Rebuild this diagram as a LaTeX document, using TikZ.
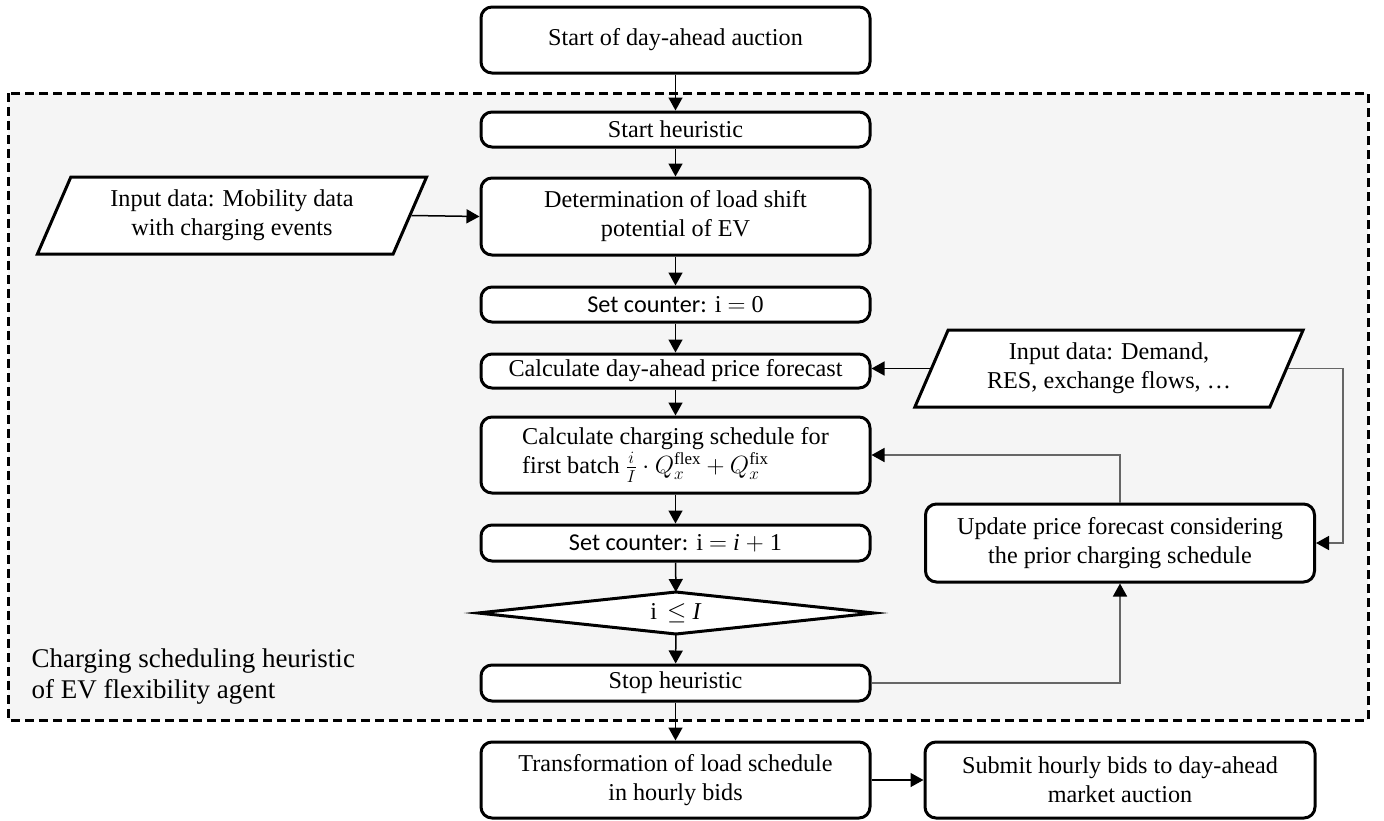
\documentclass[tikz,border=0pt]{standalone}
\usepackage{fontspec}
\setmainfont{Liberation Serif}
\newfontfamily\carl{Carlito}
\usetikzlibrary{shapes.geometric,arrows.meta}
\begin{document}
\begin{tikzpicture}[x=1pt,y=-1pt,
  txt/.style={font=\fontsize{24.2}{29}\selectfont},
  box/.style={txt,draw,line width=3pt,rounded corners=11pt,fill=white,minimum width=389pt,align=center,inner sep=2pt},
  para/.style={txt,draw,line width=3pt,trapezium,trapezium left angle=65,trapezium right angle=115,trapezium stretches=true,fill=white,minimum width=390pt,minimum height=77pt,align=center,inner sep=2pt},
  dia/.style={txt,draw,line width=3pt,diamond,aspect=9,fill=white,minimum width=396pt,minimum height=42pt,inner sep=0pt,outer sep=0pt},
  arr/.style={line width=1.5pt,-{Triangle[length=13pt,width=14pt,color=black]}},
  fb/.style={arr,draw=black!60}]
\useasboundingbox (0,0) rectangle (1384,820);
% heuristic frame
\draw[line width=3pt,dash pattern=on 9pt off 5pt,fill=black!4] (8,93) rectangle (1368,720);
% nodes
\node[box,minimum height=66pt] (start) at (675.5,40) {Start of day-ahead auction};
\node[box,minimum height=35pt] (sh) at (675.5,129.5) {Start heuristic};
\node[box,minimum height=77pt] (det) at (675.5,216.5) {Determination of load shift\\potential of EV};
\node[para] (mob) at (232,215.5) {Input data: Mobility data\\with charging events};
\node[box,minimum height=35pt] (sc0) at (675.5,304.5) {{\carl Set counter:} i $=$ 0};
\node[box,minimum height=34pt] (price) at (675.5,371) {Calculate day-ahead price forecast};
\node[para] (dem) at (1109,368.5) {Input data: Demand,\\RES, exchange flows, \dots};
\node[box,minimum height=76pt,align=left] (calc) at (675.5,455) {Calculate charging schedule for\\first batch $\frac{i}{I}\cdot Q_x^{\mathrm{flex}} + Q_x^{\mathrm{fix}}$};
\node[box,minimum height=36pt] (sc1) at (675.5,543) {{\carl Set counter:} i $=$ \textit{i} $+$ 1};
\node[dia] (cond) at (676,613) {i \,$\leq$ \textit{I}};
\node[box,minimum height=36pt] (stop) at (675.5,683) {Stop heuristic};
\node[box,minimum height=78pt] (upd) at (1120,543) {Update price forecast considering\\the prior charging schedule};
\node[box,minimum height=76pt] (trans) at (675.5,780) {Transformation of load schedule\\in hourly bids};
\node[box,minimum height=76pt,minimum width=390pt] (sub) at (1120,780) {Submit hourly bids to day-ahead\\market auction};
\node[anchor=west,align=left,font=\fontsize{27}{31}\selectfont] (lbl) at (28,677) {Charging scheduling heuristic\\of EV flexibility agent};
\coordinate (rc) at (1343,369);
% main flow
\draw[arr] (start) -- (sh);
\draw[arr] (sh) -- (det);
\draw[arr] (det) -- (sc0);
\draw[arr] (sc0) -- (price);
\draw[arr] (price) -- (calc);
\draw[arr] (calc) -- (sc1);
\draw[arr] (sc1) -- (cond);
\draw[arr] (cond) -- (stop);
\draw[arr] (stop) -- (trans);
\draw[arr] (trans) -- (sub);
\draw[arr] (mob.east) -- (det.west);
\draw[arr] (dem.west) -- (dem.west -| price.east);
% feedback
\draw[fb] (dem.east) -- (dem.east -| rc) |- (upd.east);
\draw[fb] (upd.north) |- (calc.east);
\draw[fb] (stop.east) -| (upd.south);
\end{tikzpicture}
\end{document}
